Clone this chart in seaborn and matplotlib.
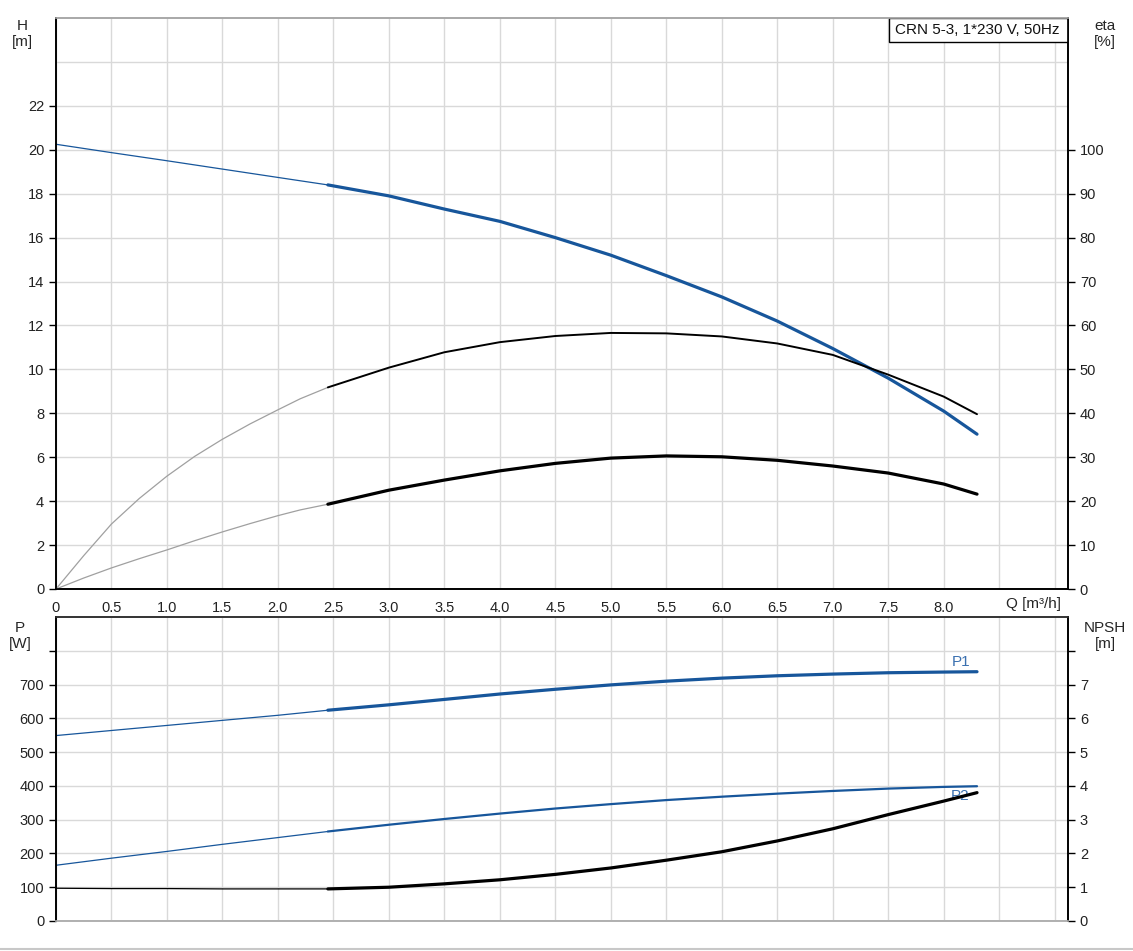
import matplotlib.pyplot as plt
import matplotlib.patches as mpatches
import numpy as np
import pandas as pd
import seaborn as sns
from matplotlib.lines import Line2D

sns.set_style("white")
plt.rcParams["font.family"] = ["Liberation Sans", "DejaVu Sans"]

# readings of the pump curves, Q in m3/h
q_h = [0, 0.5, 1.0, 1.5, 2.0, 2.45, 3.0, 3.5, 4.0, 4.5, 5.0, 5.5, 6.0, 6.5, 7.0, 7.5, 8.0, 8.3]
h_m = [20.25, 19.87, 19.5, 19.12, 18.74, 18.4, 17.9, 17.3, 16.74, 16.0, 15.2, 14.27, 13.3, 12.2, 10.95, 9.6, 8.1, 7.05]

q_eta = [0, 0.25, 0.5, 0.75, 1.0, 1.25, 1.5, 1.75, 2.0, 2.2, 2.45, 3.0, 3.5, 4.0, 4.5, 5.0,
         5.5, 6.0, 6.5, 7.0, 7.5, 8.0, 8.3]
eta_pump = [0, 7.6, 14.8, 20.6, 25.7, 30.2, 34.1, 37.6, 40.8, 43.3, 45.9, 50.4, 53.9, 56.2, 57.6, 58.3,
            58.2, 57.5, 55.9, 53.3, 48.8, 43.8, 39.8]
eta_total = [0, 2.5, 4.8, 6.9, 8.9, 11.0, 13.0, 14.9, 16.7, 18.0, 19.3, 22.5, 24.8, 26.9, 28.6, 29.8,
             30.3, 30.1, 29.3, 28.0, 26.4, 23.9, 21.6]

q_p = [0, 0.5, 1.0, 1.5, 2.0, 2.45, 3.0, 3.5, 4.0, 4.5, 5.0, 5.5, 6.0, 6.5, 7.0, 7.5, 8.0, 8.3]
p1_w = [549, 564, 579, 594, 609, 624, 640, 656, 672, 686, 699, 710, 719, 726, 731, 735, 737, 738]
p2_w = [165, 186, 206, 227, 247, 265, 285, 302, 318, 333, 346, 358, 368, 377, 385, 392, 397, 399]
npsh_m = [0.97, 0.96, 0.96, 0.95, 0.95, 0.95, 1.0, 1.1, 1.22, 1.38, 1.57, 1.8, 2.05, 2.37, 2.73, 3.15, 3.55, 3.8]

duty_start = 2.45

x_ticks = np.arange(0, 9.01, 0.5)
x_labels = ["0"] + [f"{v:.1f}" for v in x_ticks[1:17]] + ["", ""]

blue = "#17569b"
label_blue = "#3a70b0"
grid_col = "#d9d9d9"
W, H = 1133, 951


def draw_curve(ax, q, values, color, thin_color, lw):
    """Thin line up to the duty range start, thick line after it."""
    df = pd.DataFrame({"Q": q, "val": values})
    thin = df[df.Q <= duty_start]
    thick = df[df.Q >= duty_start]
    sns.lineplot(data=thin, x="Q", y="val", ax=ax, color=thin_color,
                 linewidth=0.9, sort=False, estimator=None)
    sns.lineplot(data=thick, x="Q", y="val", ax=ax, color=color,
                 linewidth=lw, sort=False, estimator=None)
    ax.set_xlabel("")
    ax.set_ylabel("")


def style_ticks(ax):
    ax.tick_params(direction="out", length=5, width=1, color="black",
                   labelsize=10.5, labelcolor="#222222")


fig = plt.figure(figsize=(W / 100, H / 100), dpi=100)
ax = fig.add_axes([56 / W, 1 - 589 / H, 1012 / W, 571 / H])
ax2 = ax.twinx()
bx = fig.add_axes([56 / W, 1 - 921 / H, 1012 / W, 304 / H])
bx2 = bx.twinx()

### top panel: head and efficiency ###
draw_curve(ax, q_h, h_m, blue, blue, 2.3)
draw_curve(ax2, q_eta, eta_pump, "black", "#a0a0a0", 1.4)
draw_curve(ax2, q_eta, eta_total, "black", "#a0a0a0", 2.3)

ax.set_xlim(0, 9.12)
ax.set_xticks(x_ticks)
ax.set_xticklabels(x_labels)
ax.set_ylim(0, 26)
ax.set_yticks(np.arange(0, 23, 2))
ax.set_yticks([24], minor=True)
ax.tick_params(axis="y", which="minor", length=0)
ax.grid(True, which="both", color=grid_col, lw=1)
ax.set_axisbelow(True)
style_ticks(ax)

ax2.set_ylim(0, 130)
ax2.set_yticks(np.arange(0, 101, 10))
ax2.grid(False)
style_ticks(ax2)

for a in (ax, ax2):
    a.spines["top"].set_color("#a8a8a8")
    a.spines["left"].set_color("black")
    a.spines["right"].set_color("black")
    a.spines["bottom"].set_color("black")
    for s in a.spines.values():
        s.set_linewidth(1.2)

# title box
ax.add_patch(mpatches.Rectangle((833 / 1012, 1 - 24 / 571), 179 / 1012, 24 / 571,
                                transform=ax.transAxes, facecolor="white",
                                edgecolor="black", lw=1, zorder=5))
ax.text(839 / 1012, 1 - 12 / 571, "CRN 5-3, 1*230 V, 50Hz", transform=ax.transAxes,
        ha="left", va="center", fontsize=11, color="#111111", zorder=6)

### bottom panel: power and NPSH ###
draw_curve(bx, q_p, p1_w, blue, blue, 2.3)
draw_curve(bx, q_p, p2_w, blue, blue, 1.6)
draw_curve(bx2, q_p, npsh_m, "black", "black", 2.3)

bx.set_xlim(0, 9.12)
bx.set_xticks(x_ticks)
bx.set_xticklabels([])
bx.set_ylim(0, 900)
bx.set_yticks(np.arange(0, 801, 100))
bx.set_yticklabels([str(v) for v in range(0, 701, 100)] + [""])
bx.grid(True, color=grid_col, lw=1)
bx.set_axisbelow(True)
style_ticks(bx)
bx.tick_params(axis="x", length=0)

bx2.set_ylim(0, 9)
bx2.set_yticks(np.arange(0, 9, 1))
bx2.set_yticklabels([str(v) for v in range(0, 8)] + [""])
bx2.grid(False)
style_ticks(bx2)

for a in (bx, bx2):
    a.spines["top"].set_color("#333333")
    a.spines["left"].set_color("black")
    a.spines["right"].set_color("black")
    a.spines["bottom"].set_color("#b0b0b0")
    for s in a.spines.values():
        s.set_linewidth(1.2)

bx.text(8.16, 768, "P1", color=label_blue, fontsize=11, ha="center", va="center")
bx.text(8.15, 371, "P2", color=label_blue, fontsize=11, ha="center", va="center")

# axis captions
fig.text(22 / W, 1 - 34 / H, "H\n[m]", ha="center", va="center", fontsize=11, linespacing=1.1)
fig.text(1105 / W, 1 - 34 / H, "eta\n[%]", ha="center", va="center", fontsize=11, linespacing=1.1)
fig.text(20 / W, 1 - 636 / H, "P\n[W]", ha="center", va="center", fontsize=11, linespacing=1.1)
fig.text(1105 / W, 1 - 636 / H, "NPSH\n[m]", ha="center", va="center", fontsize=11, linespacing=1.1)
fig.text(1033 / W, 1 - 604 / H, "Q [m³/h]", ha="center", va="center", fontsize=11)

fig.add_artist(Line2D([0, 1], [1 - 949 / H] * 2, color="#c8c8c8", lw=1.5))

fig.savefig("out.png", dpi=100)
